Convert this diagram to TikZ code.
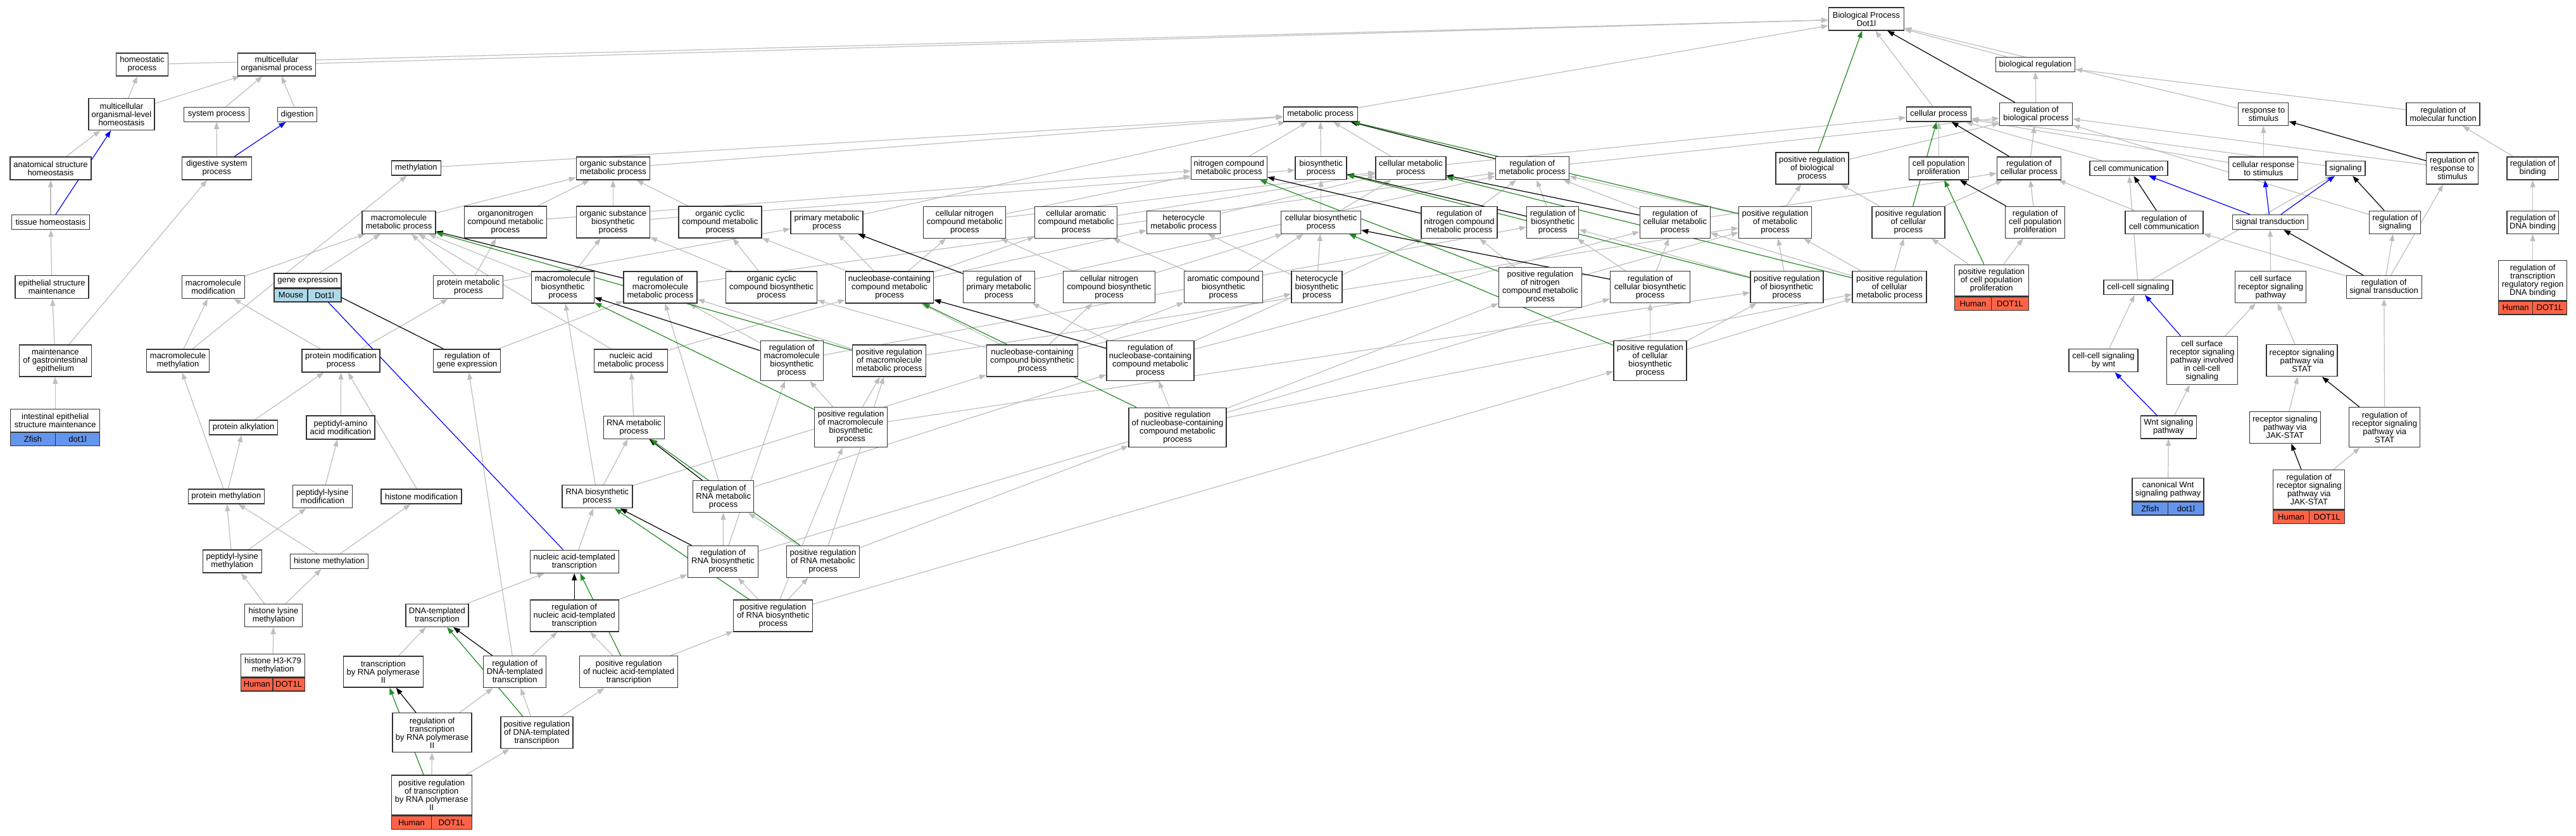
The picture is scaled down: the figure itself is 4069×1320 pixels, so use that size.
\documentclass[tikz,border=0pt]{standalone}
\usepackage{fontspec}
\setmainfont{Liberation Sans}
\usetikzlibrary{arrows.meta}
\pgfdeclarelayer{background}
\pgfsetlayers{background,main}
\definecolor{egray}{HTML}{BEBEBE}
\definecolor{egreen}{HTML}{228B22}
\definecolor{eblue}{HTML}{0000FF}
\definecolor{hum}{HTML}{FF6347}
\definecolor{zf}{HTML}{6495ED}
\definecolor{mou}{HTML}{ADD8E6}
\definecolor{bord}{HTML}{333333}
\tikzset{
 gobox/.style={draw=bord, line width=1.3pt, fill=white, align=center, inner xsep=2pt, inner ysep=1pt, font=\fontsize{13}{13}\selectfont},
 gocell/.style={gobox, minimum height=21pt},
 edgebase/.style={line width=1.2pt, -{Triangle[length=11pt,width=8pt]}},
 eg/.style={edgebase, egray},
 ek/.style={edgebase, black},
 eG/.style={edgebase, egreen},
 eB/.style={edgebase, eblue}
}
\newcommand{\GOn}[6]{\node[gobox,minimum width=#4pt,minimum height=#5pt] (#1) at (#2,#3) {#6};}
\newcommand{\GOg}[9]{%
 \node[gobox,minimum width=#4pt,minimum height=#5pt] (#1) at (#2,#3) {#6};
 \node[gocell,fill=#9,minimum width={#4pt/2},anchor=north west] (#1a) at (#1.south west) {#7};
 \node[gocell,fill=#9,minimum width={#4pt/2},anchor=north east] (#1b) at (#1.south east) {#8};}
\begin{document}
\begin{tikzpicture}[x=1pt,y=-1pt]
\useasboundingbox (0,0) rectangle (4069,1320);
\begin{pgfonlayer}{background}
\fill[white] (0,0) rectangle (4069,1320);
\end{pgfonlayer}
% row 30/102
\GOn{BP}{2948}{30}{119}{36}{Biological Process\\Dot1l}
\GOn{homeo}{224.5}{102}{82}{36}{homeostatic\\process}
\GOn{mop}{437}{102}{123}{36}{multicellular\\organismal process}
\GOn{bioreg}{3215}{102}{125}{23}{biological regulation}
% row 180
\GOn{molh}{192}{180.5}{104}{50}{multicellular\\organismal-level\\homeostasis}
\GOn{sysproc}{342}{180.7}{103}{23}{system process}
\GOn{digestion}{469.6}{180.7}{62}{23}{digestion}
\GOn{metab}{2085.7}{180.5}{117}{23}{metabolic process}
\GOn{cellproc}{3062.4}{180.5}{102}{23}{cellular process}
\GOn{rbiop}{3216}{180.5}{115}{36}{regulation of\\biological process}
\GOn{rts}{3575.3}{180.5}{79}{36}{response to\\stimulus}
\GOn{rmf}{3859}{180.5}{116}{36}{regulation of\\molecular function}
% row 266
\GOn{ash}{80}{266}{128}{36}{anatomical structure\\homeostasis}
\GOn{dsp}{342.4}{266}{110}{36}{digestive system\\process}
\GOn{methyl}{657.4}{265.6}{78}{23}{methylation}
\GOn{osmp}{968.4}{266}{116}{36}{organic substance\\metabolic process}
\GOn{nitcmp}{1941.3}{265.7}{120}{36}{nitrogen compound\\metabolic process}
\GOn{biosyn}{2086.6}{265.7}{81}{36}{biosynthetic\\process}
\GOn{cellmp}{2228.4}{265.7}{111}{36}{cellular metabolic\\process}
\GOn{rmp}{2420.3}{265.7}{116}{36}{regulation of\\metabolic process}
\GOn{prbp}{2862.4}{265.9}{115}{50}{positive regulation\\of biological\\process}
\GOn{cpp}{3062.4}{266}{94}{36}{cell population\\proliferation}
\GOn{rcp}{3205}{266}{101}{36}{regulation of\\cellular process}
\GOn{cellcomm}{3362.4}{265.9}{123}{23}{cell communication}
\GOn{crs}{3575.3}{266}{109}{36}{cellular response\\to stimulus}
\GOn{signaling}{3705}{265.9}{62}{23}{signaling}
\GOn{rrs}{3873.8}{265.9}{82}{50}{regulation of\\response to\\stimulus}
\GOn{rbind}{4000.6}{266}{81}{36}{regulation of\\binding}
% row 351
\GOn{tissue}{80}{351}{123}{23}{tissue homeostasis}
\GOn{mmp}{630}{351.2}{116}{36}{macromolecule\\metabolic process}
\GOn{oncmp}{798.3}{351}{130}{50}{organonitrogen\\compound metabolic\\process}
\GOn{osbp}{968.4}{351}{116}{50}{organic substance\\biosynthetic\\process}
\GOn{occmp}{1137.4}{351}{131}{50}{organic cyclic\\compound metabolic\\process}
\GOn{pmp}{1306}{351.2}{114}{36}{primary metabolic\\process}
\GOn{cncmp}{1523.8}{351.2}{130}{50}{cellular nitrogen\\compound metabolic\\process}
\GOn{cacmp}{1699.8}{351.2}{130}{50}{cellular aromatic\\compound metabolic\\process}
\GOn{hmp}{1869.8}{351.2}{116}{36}{heterocycle\\metabolic process}
\GOn{cbp}{2086.6}{351.2}{126}{36}{cellular biosynthetic\\process}
\GOn{rncmp}{2305}{351.4}{120}{50}{regulation of\\nitrogen compound\\metabolic process}
\GOn{rbp}{2452.7}{351.4}{82}{50}{regulation of\\biosynthetic\\process}
\GOn{rcmp}{2645.8}{351.4}{111}{50}{regulation of\\cellular metabolic\\process}
\GOn{prmp}{2804}{351.2}{115}{50}{positive regulation\\of metabolic\\process}
\GOn{prcp}{3014.4}{351.2}{115}{50}{positive regulation\\of cellular\\process}
\GOn{rcpp}{3214.7}{351.2}{94}{50}{regulation of\\cell population\\proliferation}
\GOn{rcc}{3418.4}{351.2}{123}{36}{regulation of\\cell communication}
\GOn{st}{3585.8}{351}{119}{23}{signal transduction}
\GOn{rsig}{3783.1}{351.2}{81}{36}{regulation of\\signaling}
\GOn{rdna}{4000.6}{351.2}{81}{36}{regulation of\\DNA binding}
% row 454
\GOn{esm}{82}{453.7}{116}{36}{epithelial structure\\maintenance}
\GOn{mmod}{337}{453.7}{99}{36}{macromolecule\\modification}
\GOg{geneexp}{486}{443.2}{106}{22.7}{gene expression}{Mouse}{Dot1l}{mou}
\GOn{protmp}{739.8}{453.7}{110}{36}{protein metabolic\\process}
\GOn{mbp}{889}{454}{99}{50}{macromolecule\\biosynthetic\\process}
\GOn{rmmp}{1043}{454}{116}{50}{regulation of\\macromolecule\\metabolic process}
\GOn{occbp}{1218.6}{454}{144}{50}{organic cyclic\\compound biosynthetic\\process}
\GOn{ncmp}{1405}{454}{139}{50}{nucleobase-containing\\compound metabolic\\process}
\GOn{rpmp}{1577.9}{453.7}{113}{50}{regulation of\\primary metabolic\\process}
\GOn{cncbp}{1752}{453.7}{145}{50}{cellular nitrogen\\compound biosynthetic\\process}
\GOn{acbp}{1932.4}{453.7}{124}{50}{aromatic compound\\biosynthetic\\process}
\GOn{hbp}{2080}{453.7}{80}{50}{heterocycle\\biosynthetic\\process}
\GOn{prncm}{2433}{454}{131}{63}{positive regulation\\of nitrogen\\compound metabolic\\process}
\GOn{rcbp}{2606.5}{453.7}{126}{50}{regulation of\\cellular biosynthetic\\process}
\GOn{prbsp}{2822.4}{453.7}{115}{50}{positive regulation\\of biosynthetic\\process}
\GOn{prcmp}{2984.6}{453.7}{117}{50}{positive regulation\\of cellular\\metabolic process}
\GOg{prcpp}{3145.7}{443}{117}{49.7}{positive regulation\\of cell population\\proliferation}{Human}{DOT1L}{hum}
\GOn{ccs}{3377.5}{454}{109}{23}{cell-cell signaling}
\GOn{csrsp}{3586.7}{453.7}{112}{50}{cell surface\\receptor signaling\\pathway}
\GOn{rst}{3765.7}{453.7}{119}{36}{regulation of\\signal transduction}
\GOg{rtrdb}{4000.6}{443.2}{108}{62.8}{regulation of\\transcription\\regulatory region\\DNA binding}{Human}{DOT1L}{hum}
% row 570
\GOn{mgie}{87.3}{570}{114}{50}{maintenance\\of gastrointestinal\\epithelium}
\GOn{mmeth}{281}{570}{99}{36}{macromolecule\\methylation}
\GOn{pmodp}{538.6}{570}{123}{36}{protein modification\\process}
\GOn{rge}{737.8}{570}{106}{36}{regulation of\\gene expression}
\GOn{namp}{996.5}{570}{116}{36}{nucleic acid\\metabolic process}
\GOn{rmbp}{1250.7}{570}{99}{63}{regulation of\\macromolecule\\biosynthetic\\process}
\GOn{prmmp}{1404.6}{570}{116}{50}{positive regulation\\of macromolecule\\metabolic process}
\GOn{ncbp}{1630.5}{570}{144}{50}{nucleobase-containing\\compound biosynthetic\\process}
\GOn{rncmpb}{1817}{570}{138}{63}{regulation of\\nucleobase-containing\\compound metabolic\\process}
\GOn{prcbp}{2606.5}{570}{115}{63}{positive regulation\\of cellular\\biosynthetic\\process}
\GOn{ccswnt}{3322.5}{569.8}{109}{36}{cell-cell signaling\\by wnt}
\GOn{csrspc}{3478.3}{569.7}{112}{76}{cell surface\\receptor signaling\\pathway involved\\in cell-cell\\signaling}
\GOn{rspstat}{3636}{569.8}{112}{50}{receptor signaling\\pathway via\\STAT}
% row 675
\GOg{iesm}{87.3}{664.5}{141}{36}{intestinal epithelial\\structure maintenance}{Zfish}{dot1l}{zf}
\GOn{palk}{384.6}{675.4}{108}{23}{protein alkylation}
\GOn{paam}{538}{675.4}{108}{37}{peptidyl-amino\\acid modification}
\GOn{rnamp}{1001.4}{675.3}{96}{36}{RNA metabolic\\process}
\GOn{prmbp}{1344}{675}{115}{63}{positive regulation\\of macromolecule\\biosynthetic\\process}
\GOn{prncmp}{1860}{675.2}{154}{62}{positive regulation\\of nucleobase-containing\\compound metabolic\\process}
\GOn{wnt}{3425.3}{675}{88}{36}{Wnt signaling\\pathway}
\GOn{rspjak}{3609.3}{675.3}{112}{50}{receptor signaling\\pathway via\\JAK-STAT}
\GOn{rrspstat}{3766.7}{675.2}{112}{63}{regulation of\\receptor signaling\\pathway via\\STAT}
% row 785
\GOn{pmeth}{357.4}{784.6}{120}{23}{protein methylation}
\GOn{plmod}{509.4}{784.6}{94}{36}{peptidyl-lysine\\modification}
\GOn{hmod}{665.6}{784.6}{127}{23}{histone modification}
\GOn{rnabp}{943.4}{784.8}{111}{36}{RNA biosynthetic\\process}
\GOn{rrnamp}{1142.7}{784.7}{96}{50}{regulation of\\RNA metabolic\\process}
\GOg{cwnt}{3424.6}{773.7}{113}{36}{canonical Wnt\\signaling pathway}{Zfish}{dot1l}{zf}
\GOg{rrspjak}{3647.3}{773.6}{113}{62.7}{regulation of\\receptor signaling\\pathway via\\JAK-STAT}{Human}{DOT1L}{hum}
% row 887
\GOn{plmeth}{366.7}{887}{93}{36}{peptidyl-lysine\\methylation}
\GOn{hmeth}{520}{887.2}{123}{23}{histone methylation}
\GOn{natt}{907.2}{887.4}{140}{36}{nucleic acid-templated\\transcription}
\GOn{rrnabp}{1142}{887.4}{111}{50}{regulation of\\RNA biosynthetic\\process}
\GOn{prrnamp}{1300}{887.4}{115}{50}{positive regulation\\of RNA metabolic\\process}
% row 972
\GOn{hlm}{432}{972.4}{91}{36}{histone lysine\\methylation}
\GOn{dtt}{690.4}{972.4}{99}{36}{DNA-templated\\transcription}
\GOn{rnatt}{907.2}{972.9}{140}{50}{regulation of\\nucleic acid-templated\\transcription}
\GOn{prrnabp}{1221.3}{972.9}{125}{50}{positive regulation\\of RNA biosynthetic\\process}
% row 1062
\GOg{hk}{431}{1051.5}{100.5}{36.4}{histone H3-K79\\methylation}{Human}{DOT1L}{hum}
\GOn{trpol}{605.4}{1061.5}{126}{49}{transcription\\by RNA polymerase\\II}
\GOn{rdtt}{813.2}{1061.8}{99}{50}{regulation of\\DNA-templated\\transcription}
\GOn{prnatt}{993.2}{1061.8}{155}{50}{positive regulation\\of nucleic acid-templated\\transcription}
% row 1158
\GOn{regtrpol}{682.6}{1157.8}{125}{62}{regulation of\\transcription\\by RNA polymerase\\II}
\GOn{prdtt}{847.9}{1157.8}{114}{50}{positive regulation\\of DNA-templated\\transcription}
\GOg{posregtrpol}{681.7}{1256.5}{127}{63}{positive regulation\\of transcription\\by RNA polymerase\\II}{Human}{DOT1L}{hum}
% edges
\begin{pgfonlayer}{background}
\foreach \a/\b in {homeo/BP, mop/BP, bioreg/BP, metab/BP, cellproc/BP, rts/BP,
 molh/homeo, molh/mop, sysproc/mop, digestion/mop, rbiop/bioreg, rmf/bioreg,
 ash/molh, dsp/sysproc, methyl/metab, osmp/metab, nitcmp/metab, biosyn/metab, cellmp/metab, pmp/metab,
 cellmp/cellproc, rmp/rbiop, prbp/rbiop, cpp/cellproc, rcp/rbiop, cellcomm/cellproc, crs/rts, crs/cellproc,
 signaling/cellproc, rrs/rbiop, rbind/rmf, tissue/ash,
 mmp/osmp, oncmp/osmp, oncmp/nitcmp, osbp/osmp, osbp/biosyn, occmp/osmp,
 cncmp/nitcmp, cncmp/cellmp, cacmp/cellmp, hmp/cellmp, cbp/biosyn, cbp/cellmp,
 rncmp/rmp, rbp/rmp, rcmp/rmp, rcmp/rcp, prmp/rmp, prmp/prbp, prcp/rcp, prcp/prbp, rcpp/rcp, rcc/rcp,
 rsig/rbiop, rdna/rbind,
 esm/tissue, mmod/mmp, geneexp/mmp, protmp/mmp, protmp/oncmp, protmp/pmp, mbp/mmp, mbp/osbp, rmmp/rmp,
 occbp/occmp, occbp/osbp, ncmp/pmp, ncmp/occmp, ncmp/cncmp, ncmp/cacmp, ncmp/hmp,
 rpmp/rmp, cncbp/cncmp, cncbp/cbp, acbp/cacmp, acbp/cbp, hbp/hmp, hbp/cbp,
 prncm/rncmp, prncm/prmp, rcbp/rbp, rcbp/rcmp, prbsp/rbp, prbsp/prmp, prcmp/rcmp, prcmp/prmp, prcmp/prcp,
 prcpp/rcpp, prcpp/prcp, ccs/cellcomm, ccs/signaling, csrsp/st, rst/rsig, rst/rrs, rst/rcc, rtrdb/rdna,
 mgie/esm, mgie/dsp, mmeth/methyl, mmeth/mmod, pmodp/protmp, pmodp/mmod,
 rge/rmmp, namp/mmp, namp/ncmp, rmbp/rmmp, rmbp/rbp, prmmp/rmmp, prmmp/prmp,
 ncbp/ncmp, ncbp/cncbp, ncbp/acbp, ncbp/hbp, ncbp/occbp, rncmpb/rpmp, rncmpb/rcmp, rncmpb/rncmp,
 prcbp/rcbp, prcbp/prbsp, prcbp/prcmp, ccswnt/ccs, csrspc/csrsp, rspstat/csrsp,
 iesm/mgie, palk/pmodp, paam/pmodp, rnamp/namp, prmbp/rmbp, prmbp/prmmp, prmbp/prbsp,
 prncmp/rncmpb, prncmp/prcmp, prncmp/prncm, wnt/csrspc, rspjak/rspstat, rrspstat/rst,
 pmeth/palk, pmeth/mmeth, plmod/paam, hmod/pmodp, rnabp/rnamp, rnabp/mbp, rnabp/ncbp, rrnamp/rmmp, rrnamp/rncmpb,
 cwnt/wnt, rrspjak/rrspstat, plmeth/pmeth, plmeth/plmod, hmeth/pmeth, hmeth/hmod, natt/rnabp,
 rrnabp/rrnamp, rrnabp/rmbp, rrnabp/rcbp, prrnamp/rrnamp, prrnamp/prncmp, prrnamp/prmmp,
 hlm/plmeth, hlm/hmeth, dtt/natt, rnatt/rrnabp, prrnabp/rrnabp, prrnabp/prrnamp, prrnabp/prmbp, prrnabp/prcbp,
 hk/hlm, trpol/dtt, rdtt/rnatt, rdtt/rge, prnatt/rnatt, prnatt/prrnabp,
 regtrpol/rdtt, prdtt/rdtt, prdtt/prnatt, posregtrpol/regtrpol, posregtrpol/prdtt}
 \draw[eg] (\a) -- (\b);
\foreach \a/\b in {rbiop/BP, rmp/metab, rcp/cellproc, rrs/rts, rcpp/cpp, rcc/cellcomm, rsig/signaling, rst/st,
 rrspstat/rspstat, rrspjak/rspjak, rmmp/mmp, rge/geneexp, rpmp/pmp, rncmp/nitcmp, rbp/biosyn, rcmp/cellmp,
 rcbp/cbp, rmbp/mbp, rncmpb/ncmp, rrnamp/rnamp, rrnabp/rnabp, rnatt/natt, rdtt/dtt, regtrpol/trpol}
 \draw[ek] (\a) -- (\b);
\foreach \a/\b in {prbp/BP, prmp/metab, prcp/cellproc, prcpp/cpp, prcmp/cellmp, prbsp/biosyn, prncm/nitcmp,
 prcbp/cbp, prmmp/mmp, prmbp/mbp, prncmp/ncmp, prrnamp/rnamp, prrnabp/rnabp, prnatt/natt, prdtt/dtt, posregtrpol/trpol}
 \draw[eG] (\a) -- (\b);
\foreach \a/\b in {dsp/digestion, tissue/molh, natt/geneexp, st/cellcomm, st/crs, st/signaling, csrspc/ccs, wnt/ccswnt}
 \draw[eB] (\a) -- (\b);
\end{pgfonlayer}
\end{tikzpicture}
\end{document}
